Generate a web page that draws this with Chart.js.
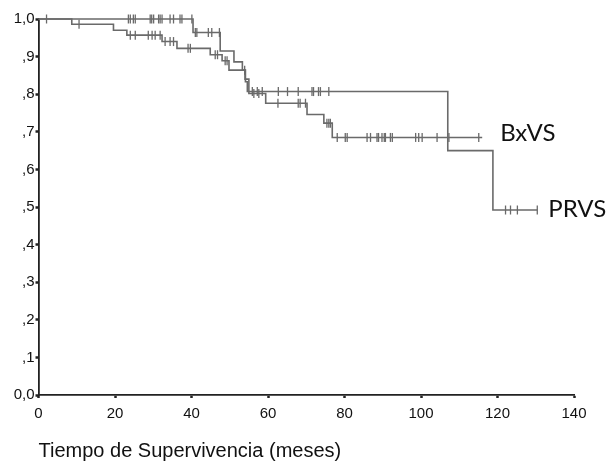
<!DOCTYPE html>
<html>
<head>
<meta charset="utf-8">
<script src="https://cdn.jsdelivr.net/npm/chart.js@4/dist/chart.umd.min.js"></script>
<style>
  html, body { margin: 0; padding: 0; background: #ffffff; }
  #wrap { width: 606px; height: 471px; }
</style>
</head>
<body>
<div id="wrap"><canvas id="c" width="606" height="471"></canvas></div>
<script>
// ---- data ----
const xTickValues = [0, 20, 40, 60, 80, 100, 120, 140];
const yTickLabels = ["0,0", ",1", ",2", ",3", ",4", ",5", ",6", ",7", ",8", ",9", "1,0"];
const xAxisTitle = "Tiempo de Supervivencia (meses)";
const seriesNames = ["PRVS", "BxVS"];

// PRVS step curve: event times (months) and survival after each step
const prvsTimes = [0, 40.4, 47.5, 51.1, 53.3, 54.1, 54.6, 107.0, 118.8, 130.4];
const prvsSurv  = [1.0, 0.964, 0.915, 0.886, 0.864, 0.833, 0.807, 0.650, 0.492, 0.492];
// PRVS censored times
const prvsCensored = [2.1, 23.5, 24.0, 24.8, 25.3, 29.2, 29.6, 30.1, 31.4, 31.8, 32.3, 34.4, 35.3,
  37.0, 37.5, 40.1, 41.0, 41.4, 44.4, 45.3, 47.3, 55.9, 57.2, 58.5, 62.7, 65.1, 67.9, 71.5, 71.9,
  73.2, 73.7, 75.9, 122.1, 123.4, 125.2, 130.4];

// BxVS step curve
const bxvsTimes = [0, 8.7, 19.6, 23.1, 32.3, 36.2, 44.9, 48.0, 49.8, 54.0, 55.0, 59.4, 70.2, 74.6, 76.8, 116.0];
const bxvsSurv  = [1.0, 0.986, 0.970, 0.957, 0.940, 0.922, 0.905, 0.889, 0.864, 0.840, 0.802, 0.776, 0.746, 0.723, 0.685, 0.685];
// BxVS censored times
const bxvsCensored = [10.6, 24.0, 25.3, 28.7, 29.7, 30.5, 31.8, 33.1, 34.4, 35.3, 39.1, 39.7, 46.2, 46.8,
  48.8, 49.3, 53.9, 56.3, 57.6, 62.6, 67.9, 68.4, 69.8, 75.4, 75.9, 76.3, 78.1, 80.2, 80.7, 85.9, 86.8,
  88.5, 88.9, 89.8, 90.4, 90.7, 92.0, 92.5, 98.6, 99.4, 100.3, 104.2, 107.3, 115.1];

// ---- helpers ----
function stepPoints(times, surv) {
  return times.map((t, i) => ({ x: t, y: surv[i] }));
}
function survAt(times, surv, t) {
  let v = surv[0];
  for (let i = 0; i < times.length; i++) { if (times[i] <= t) v = surv[i]; }
  return v;
}
function censorPoints(cens, times, surv) {
  return cens.map(t => ({ x: t, y: survAt(times, surv, t) }));
}

const curveColor = '#6a6a6a';
const axisColor = '#222222';

const endLabels = {
  id: 'endLabels',
  afterDatasetsDraw(chart) {
    const ctx = chart.ctx;
    const xs = chart.scales.x, ys = chart.scales.y;
    const items = [
      { name: seriesNames[1], t: bxvsTimes[bxvsTimes.length - 1], v: bxvsSurv[bxvsSurv.length - 1], dx: 18, dy: -4 },
      { name: seriesNames[0], t: prvsTimes[prvsTimes.length - 1], v: prvsSurv[prvsSurv.length - 1], dx: 11, dy: -1 }
    ];
    ctx.save();
    ctx.fillStyle = '#111111';
    ctx.font = '24px Lato';
    ctx.textAlign = 'left';
    ctx.textBaseline = 'middle';
    items.forEach(it => {
      ctx.fillText(it.name, xs.getPixelForValue(it.t) + it.dx, ys.getPixelForValue(it.v) + it.dy);
    });
    ctx.restore();
  }
};

new Chart(document.getElementById('c'), {
  type: 'line',
  data: {
    datasets: [
      { label: seriesNames[0], data: stepPoints(prvsTimes, prvsSurv), stepped: true,
        borderColor: curveColor, borderWidth: 1.6, pointRadius: 0, fill: false, clip: false },
      { label: seriesNames[1], data: stepPoints(bxvsTimes, bxvsSurv), stepped: true,
        borderColor: curveColor, borderWidth: 1.6, pointRadius: 0, fill: false, clip: false },
      { label: seriesNames[0] + ' cens', data: censorPoints(prvsCensored, prvsTimes, prvsSurv), showLine: false,
        pointStyle: 'line', rotation: 90, pointRadius: 4.5, borderColor: curveColor, pointBorderWidth: 1.3, clip: false },
      { label: seriesNames[1] + ' cens', data: censorPoints(bxvsCensored, bxvsTimes, bxvsSurv), showLine: false,
        pointStyle: 'line', rotation: 90, pointRadius: 4.5, borderColor: curveColor, pointBorderWidth: 1.3, clip: false }
    ]
  },
  options: {
    responsive: false,
    animation: false,
    layout: { padding: { top: 19, right: 32, left: 0, bottom: 0 } },
    plugins: { legend: { display: false }, tooltip: { enabled: false } },
    scales: {
      x: {
        type: 'linear', min: 0, max: 140,
        afterBuildTicks: s => { s.ticks = xTickValues.map(v => ({ value: v })); },
        afterFit: s => { s.height = 76; },
        border: { color: axisColor, width: 1.8 },
        grid: { drawOnChartArea: false, drawTicks: true, tickLength: 3, tickWidth: 2.5, tickColor: axisColor },
        ticks: { color: '#111', font: { family: 'Liberation Sans', size: 15 }, padding: 7, maxRotation: 0 },
        title: { display: true, text: xAxisTitle, align: 'start', color: '#111',
                 font: { family: 'Liberation Sans', size: 20 }, padding: { top: 4, bottom: 8 } }
      },
      y: {
        type: 'linear', min: 0, max: 1,
        afterBuildTicks: s => { s.ticks = yTickLabels.map((_, i) => ({ value: i / 10 })); },
        afterFit: s => { s.width = 38.5; },
        border: { color: axisColor, width: 1.8 },
        grid: { drawOnChartArea: false, drawTicks: true, tickLength: 3, tickWidth: 2.5, tickColor: axisColor },
        ticks: { color: '#111', font: { family: 'Liberation Sans', size: 15 }, padding: 1,
                 callback: (v) => yTickLabels[Math.round(v * 10)] }
      }
    }
  },
  plugins: [endLabels]
});
</script>
</body>
</html>
